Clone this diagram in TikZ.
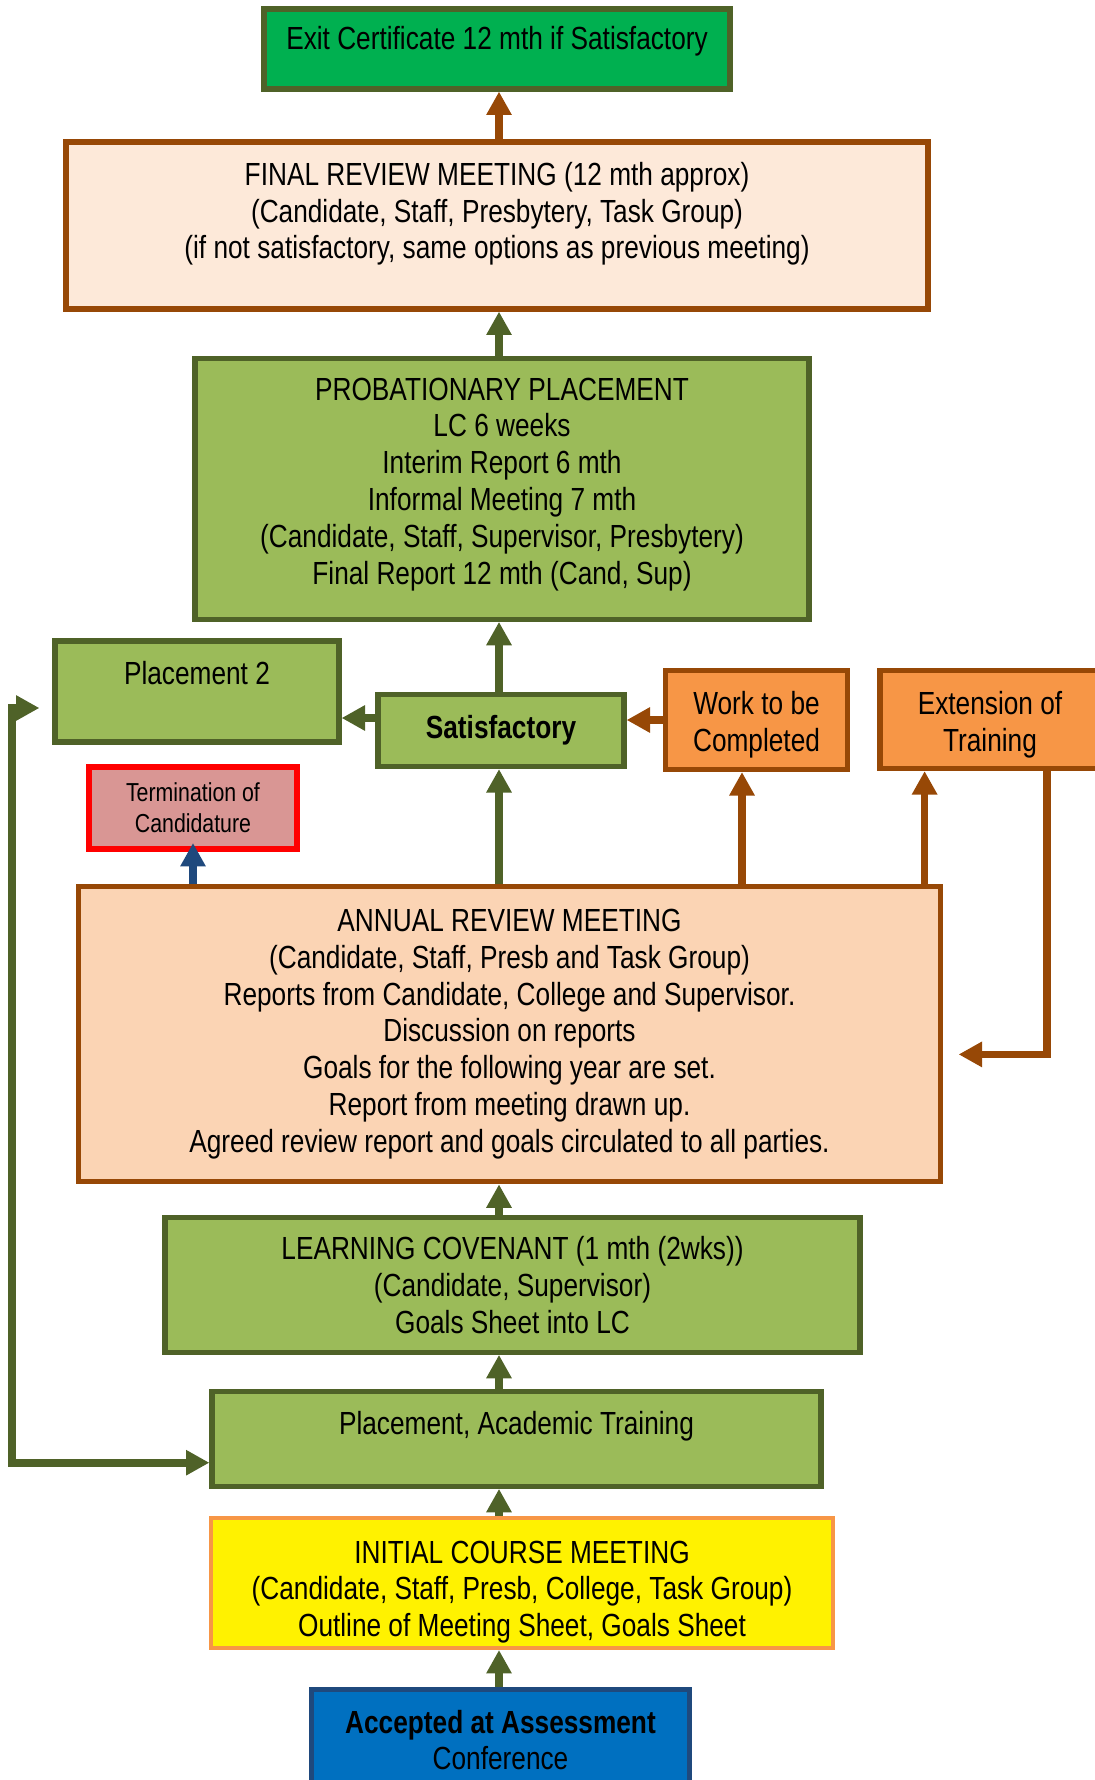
\documentclass[tikz,border=0pt]{standalone}
\usepackage{fontspec}
\setmainfont{Liberation Sans}[FakeStretch=0.82]
\usetikzlibrary{arrows.meta}
\definecolor{darkolive}{HTML}{4F6228}
\definecolor{leaf}{HTML}{9BBB59}
\definecolor{exitgreen}{HTML}{00B050}
\definecolor{rust}{HTML}{974806}
\definecolor{peachlight}{HTML}{FDE9D9}
\definecolor{peach}{HTML}{FBD4B4}
\definecolor{tangerine}{HTML}{F79646}
\definecolor{rose}{HTML}{D99694}
\definecolor{navy}{HTML}{1F497D}
\definecolor{ocean}{HTML}{0070C0}
\begin{document}
\begin{tikzpicture}[x=0.5pt,y=-0.5pt,
	every node/.style={font=\fontsize{16}{18.4}\selectfont, align=center, inner sep=0pt},
	greenbox/.style={draw=darkolive, fill=leaf, line width=2.6pt},
	brownbox/.style={draw=rust, line width=2.6pt},
	>={Triangle[width=12pt,length=11.7pt]},
	flow/.style={line width=3.8pt, ->}]

	\useasboundingbox (0,0) rectangle (1094,1780);

	\node[greenbox, fill=exitgreen, minimum width=233pt, minimum height=40pt] (exit) at (497,49) {Exit Certificate 12 mth if Satisfactory\\[-12.8pt]\strut};
	\node[brownbox, fill=peachlight, minimum width=431pt, minimum height=83.5pt] (finalrev) at (497,225.5) {FINAL REVIEW MEETING (12 mth approx)\\(Candidate, Staff, Presbytery, Task Group)\\(if not satisfactory, same options as previous meeting)\\[-8.9pt]\strut};
	\node[greenbox, minimum width=307pt, minimum height=130.25pt] (prob) at (502,489) {PROBATIONARY PLACEMENT\\LC 6 weeks\\Interim Report 6 mth\\Informal Meeting 7 mth\\(Candidate, Staff, Supervisor, Presbytery)\\Final Report 12 mth (Cand, Sup)\\[-15.9pt]\strut};
	\node[greenbox, minimum width=142pt, minimum height=50.5pt] (place2) at (197,691.5) {Placement 2\\[-5.7pt]\strut};
	\node[greenbox, minimum width=123pt, minimum height=36pt] (satisf) at (501,730.5) {\textbf{Satisfactory}};
	\node[brownbox, fill=tangerine, minimum width=91pt, minimum height=49.5pt] (work) at (756.5,720) {\strut\\[-14.9pt]Work to be\\Completed};
	\node[brownbox, fill=tangerine, minimum width=110pt, minimum height=49pt] (extend) at (990,719.5) {\strut\\[-14.4pt]Extension of\\Training};
	\node[draw=red, fill=rose, line width=3pt, minimum width=104pt, minimum height=41pt, font=\fontsize{13}{15.3}\selectfont] (termin) at (193,808) {Termination of\\Candidature};
	\node[brownbox, fill=peach, minimum width=431pt, minimum height=147.75pt] (annual) at (509.5,1034) {ANNUAL REVIEW MEETING\\(Candidate, Staff, Presb and Task Group)\\Reports from Candidate, College and Supervisor.\\Discussion on reports\\Goals for the following year are set.\\Report from meeting drawn up.\\Agreed review report and goals circulated to all parties.};
	\node[greenbox, minimum width=347.5pt, minimum height=67.25pt] (covenant) at (512.5,1285) {LEARNING COVENANT (1 mth (2wks))\\(Candidate, Supervisor)\\Goals Sheet into LC};
	\node[greenbox, minimum width=304.5pt, minimum height=47.25pt] (training) at (516.5,1439) {Placement, Academic Training\\[-8pt]\strut};
	\node[draw=tangerine, fill=yellow, line width=2pt, minimum width=311pt, minimum height=65pt] (initial) at (522,1583) {\strut\\[-11pt]INITIAL COURSE MEETING\\(Candidate, Staff, Presb, College, Task Group)\\Outline of Meeting Sheet, Goals Sheet};
	\node[draw=navy, fill=ocean, line width=2.6pt, minimum width=189pt, minimum height=50.25pt] (accepted) at (500.5,1740) {\textbf{Accepted at Assessment}\\Conference};

	\coordinate (spine) at (499,0);
	\coordinate (rail) at (11.8,0);
	\coordinate (p2in) at ([xshift=-6.5pt,yshift=-8.25pt]place2.west);
	\coordinate (acadin) at ([yshift=-11.85pt]training.west);

	\draw[flow, rust] (spine |- finalrev.north) -- (spine |- exit.south);
	\draw[flow, darkolive] (spine |- prob.north) -- (spine |- finalrev.south);
	\draw[flow, darkolive] (spine |- satisf.north) -- (spine |- prob.south);
	\draw[flow, darkolive] ([yshift=6.25pt]satisf.west) -- ([yshift=6.25pt]satisf.west -| place2.east);
	\draw[flow, rust] (work.west) -- (work.west -| satisf.east);
	\draw[flow, darkolive] (spine |- annual.north) -- (spine |- satisf.south);
	\draw[flow, rust] ([xshift=-7.25pt]work.south |- annual.north) -- ([xshift=-7.25pt]work.south);
	\draw[flow, rust] ([xshift=-32.7pt]extend.south |- annual.north) -- ([xshift=-32.7pt]extend.south);
	\draw[flow, rust] ([xshift=28.4pt]extend.south) |- ([xshift=7.75pt,yshift=-10.2pt]annual.east);
	\draw[flow, navy] (termin.south |- annual.north) -- ([yshift=4.5pt]termin.south);
	\draw[flow, darkolive] (spine |- covenant.north) -- (spine |- annual.south);
	\draw[flow, darkolive] (spine |- training.north) -- (spine |- covenant.south);
	\draw[flow, darkolive] (spine |- initial.north) -- (spine |- training.south);
	\draw[flow, darkolive] (spine |- accepted.north) -- (spine |- initial.south);
	\draw[flow, darkolive, <->] (p2in) -- (p2in -| rail) -- (rail |- acadin) -- (acadin);

\end{tikzpicture}
\end{document}
